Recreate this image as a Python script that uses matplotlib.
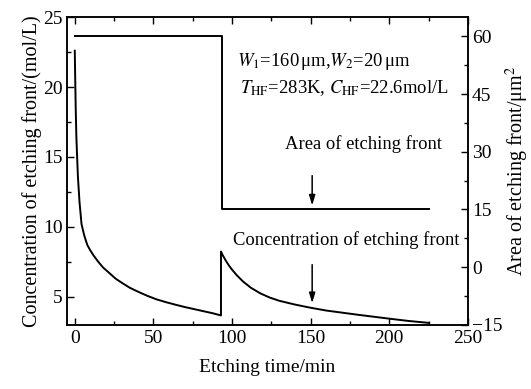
import matplotlib
matplotlib.use('Agg')
import matplotlib.pyplot as plt
from matplotlib.ticker import MultipleLocator

plt.rcParams['font.family'] = ['Liberation Serif', 'DejaVu Serif']
plt.rcParams['mathtext.fontset'] = 'stix'

# ── data ──────────────────────────────────────────────────────────────────────
# concentration of etching front, first stage (before the mask step)
t_stage1 = [0, 0.3, 0.6, 1.0, 1.5, 2.0, 3.0, 4.3, 6, 8, 10, 12, 15, 18, 22, 26,
            30, 35, 40, 46, 52, 58, 64, 70, 76, 82, 88, 93]
c_stage1 = [22.6, 20.5, 18.5, 16.5, 15.0, 13.6, 11.8, 10.2, 9.4, 8.7, 8.3, 7.95,
            7.5, 7.1, 6.7, 6.3, 6.0, 5.65, 5.38, 5.08, 4.82, 4.62, 4.44, 4.27,
            4.12, 3.97, 3.82, 3.67]
# second stage (after the jump)
t_stage2 = [93, 94, 96, 98, 100, 103, 107, 112, 118, 124, 130, 140, 150, 160,
            170, 180, 190, 200, 212, 225]
c_stage2 = [8.24, 8.0, 7.6, 7.25, 6.95, 6.55, 6.1, 5.65, 5.25, 4.95, 4.72, 4.45,
            4.22, 4.02, 3.87, 3.72, 3.58, 3.44, 3.28, 3.14]

# area of etching front (step)
t_area = [0, 93.5, 93.5, 225]
a_area = [60, 60, 15, 15]

t_conc = t_stage1 + t_stage2
c_conc = c_stage1 + c_stage2

# ── figure ────────────────────────────────────────────────────────────────────
fig = plt.figure(figsize=(5.31, 3.89), dpi=100)
ax = fig.add_axes([0.126, 0.165, 0.755, 0.791])
ax2 = ax.twinx()

ax.plot(t_conc, c_conc, color='black', lw=1.4)
ax2.plot(t_area, a_area, color='black', lw=1.4)

ax.set_xlim(-5, 250)
ax.set_ylim(3, 25)
ax2.set_ylim(-15, 65)

ax.xaxis.set_major_locator(MultipleLocator(50))
ax.xaxis.set_minor_locator(MultipleLocator(25))
ax.yaxis.set_minor_locator(MultipleLocator(2.5))
ax2.yaxis.set_minor_locator(MultipleLocator(7.5))
ax.set_yticks([5, 10, 15, 20, 25])
ax2.set_yticks([-15, 0, 15, 30, 45, 60])

ax.tick_params(which='both', direction='in', top=True, labelsize=14, width=1)
ax.tick_params(which='major', length=5)
ax.tick_params(which='minor', length=3)
ax.tick_params(axis='y', pad=3)
ax2.tick_params(which='both', direction='in', labelsize=14, width=1, pad=3)
ax2.tick_params(which='major', length=5)
ax2.tick_params(which='minor', length=3)
for a in (ax, ax2):
    for s in a.spines.values():
        s.set_linewidth(1.1)

ax.set_xlabel('Etching time/min', fontsize=14, labelpad=9)
ax.set_ylabel('Concentration of etching front/(mol/L)', fontsize=14.5, labelpad=1)
ax2.set_ylabel('Area of etching front/μm$^2$', fontsize=14.5, labelpad=1)

# ── annotations ───────────────────────────────────────────────────────────────
ax.text(103, 21.8, r'$W_1$=160$\,$μm,$W_2$=20$\,$μm', fontsize=13.4, va='center')
ax.text(105, 19.9, r'$T_{\rm HF}$=283K, $C_{\rm HF}$=22.6mol/L', fontsize=13.4,
        va='center')

ax2.text(183.5, 32, 'Area of etching front', fontsize=13.4, ha='center',
         va='center')
ax2.annotate('', xy=(151, 15.3), xytext=(151, 24.5),
             arrowprops=dict(arrowstyle='-|>,head_width=0.18,head_length=0.6',
                             color='black', lw=1.1))
ax.text(172.6, 9.07, 'Concentration of etching front', fontsize=13.4,
        ha='center', va='center')
ax.annotate('', xy=(151, 4.35), xytext=(151, 7.5),
            arrowprops=dict(arrowstyle='-|>,head_width=0.18,head_length=0.6',
                            color='black', lw=1.1))

fig.savefig('out.png', dpi=100)
